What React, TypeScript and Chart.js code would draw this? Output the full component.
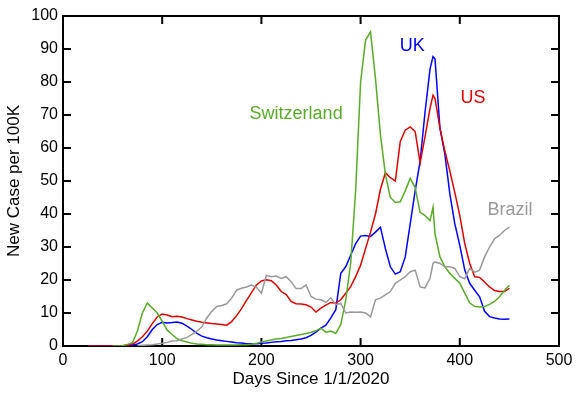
import React, { useEffect, useRef } from "react";
import { Chart, registerables } from "chart.js";

Chart.register(...registerables);

const days = [
  25, 30, 35, 40, 45, 50, 55, 60, 65, 70,
  75, 80, 85, 90, 95, 100, 105, 110, 115, 120,
  125, 130, 135, 140, 145, 150, 155, 160, 165, 170,
  175, 180, 185, 190, 195, 200, 205, 210, 215, 220,
  225, 230, 235, 240, 245, 250, 255, 260, 265, 270,
  275, 280, 285, 290, 295, 300, 305, 310, 315, 320,
  325, 330, 335, 340, 345, 350, 355, 360, 365, 370,
  373, 375, 380, 385, 390, 395, 400, 405, 410, 415,
  420, 425, 430, 435, 440, 445, 450,
];

const usValues = [
  0, 0, 0, 0, 0, 0, 0, 0.1, 0.3, 0.6,
  1.5, 2.8, 4.5, 6.8, 8.8, 9.7, 9.4, 8.9, 9, 8.8,
  8.3, 7.9, 7.5, 7.2, 7.0, 6.8, 6.7, 6.5, 6.3, 7.4,
  9.2, 11.3, 13.8, 16.2, 18.5, 19.7, 20.1, 19.8, 18.5, 16.5,
  15.6, 13.5, 12.8, 12.7, 12.5, 11.8, 10.3, 11.5, 12.4, 13.2,
  13, 14, 16, 18, 21, 24.5, 29.5, 34.5, 40, 47.5,
  52.5, 51, 50, 62, 65.4, 66.4, 65, 55.5, 63.5, 72,
  76, 75, 66, 59, 53, 46.5, 39.5, 31, 25, 21,
  20.8, 19.4, 17.9, 16.8, 16.5, 16.5, 17.5,
];

const ukValues = [
  0, 0, 0, 0, 0, 0, 0, 0, 0.1, 0.3,
  0.6, 1.3, 2.8, 5, 6.5, 7.2, 7, 7.1, 7.3, 6.9,
  6, 5, 3.8, 3, 2.5, 2.1, 1.8, 1.6, 1.4, 1.2,
  1, 0.9, 0.7, 0.7, 0.7, 0.8, 0.9, 1.1, 1.3, 1.4,
  1.6, 1.7, 1.9, 2.1, 2.5, 3.2, 4.2, 5.4, 6.3, 8.5,
  11, 22, 24, 27.5, 31, 33.3, 33.5, 33.2, 34.5, 36,
  29.5, 24, 21.8, 22.5, 27, 37, 47, 56, 71, 84,
  87.7, 87, 66, 58, 46, 37, 30.5, 23, 19, 16.9,
  14.9, 10.5, 8.9, 8.5, 8.2, 8.1, 8.2,
];

const switzerlandValues = [
  null, null, null, null, null, 0, 0, 0.1, 0.5, 1,
  4.5, 10, 13, 11.5, 10, 7.5, 4.8, 3.5, 2.2, 1.6,
  1.2, 0.8, 0.6, 0.5, 0.4, 0.4, 0.3, 0.3, 0.3, 0.3,
  0.3, 0.4, 0.4, 0.5, 0.8, 1.2, 1.5, 1.8, 2.1, 2.3,
  2.6, 2.9, 3.2, 3.5, 3.8, 4.1, 4.6, 5.4, 4.2, 4.5,
  3.8, 6.5, 13.9, 25, 47, 80, 92.7, 95.2, 81, 64,
  52, 45, 43.5, 43.7, 47, 50.8, 48, 40.5, 39.5, 38,
  42, 34, 27, 24, 22, 20.5, 19, 16, 13, 12,
  11.8, 12, 12.6, 13.5, 14.9, 16.8, 18.4,
];

const brazilValues = [
  null, null, null, null, null, null, null, null, null, null,
  0.1, 0.2, 0.3, 0.4, 0.6, 0.8, 1.1, 1.5, 1.6, 2.1,
  2.6, 3.5, 4.5, 5.8, 8.5, 10.5, 12, 12.3, 12.8, 14.5,
  16.9, 17.5, 17.9, 18.5, 17.8, 16, 21.4, 21, 21.2, 20.5,
  21, 19.5, 17.4, 17.4, 18.5, 15, 14.2, 14, 13.2, 14.6,
  12.5, 12.9, 10, 10.3, 10.2, 10.3, 10, 8.8, 14, 14.5,
  15.5, 16.5, 19, 20, 21, 22.5, 23, 17.9, 17.6, 20.5,
  25, 25.5, 25, 24, 24, 23.5, 21, 20.4, 23.5, 22.4,
  23, 27, 30, 32.5, 33.5, 35, 36,
];

const seriesNames = ["Brazil", "Switzerland", "US", "UK"];
const seriesColors = ["#999999", "#5aab2a", "#e00000", "#0000ff"];
// label anchor points in data units (day, value)
const labelDays = [450.7, 235, 413.4, 352];
const labelValues = [41.3, 70.3, 75, 90.8];

const xTicks = [0, 100, 200, 300, 400, 500];
const yTicks = [0, 10, 20, 30, 40, 50, 60, 70, 80, 90, 100];

const FONT = "'Liberation Sans', Arial, Helvetica, sans-serif";

const toPoints = (vals: (number | null)[]) =>
  days.map((d, i) => ({ x: d, y: vals[i] }));

const framePlugin = {
  id: "frame",
  beforeDatasetsDraw(chart: any) {
    const { ctx, chartArea } = chart;
    const { left, right, top, bottom } = chartArea;
    const xs = chart.scales.x;
    const ys = chart.scales.y;
    const tl = 8;
    ctx.save();
    ctx.strokeStyle = "#000";
    ctx.lineWidth = 2;
    ctx.beginPath();
    ctx.rect(left, top, right - left, bottom - top);
    ctx.stroke();
    ctx.beginPath();
    xTicks.forEach((t) => {
      const px = xs.getPixelForValue(t);
      ctx.moveTo(px, bottom);
      ctx.lineTo(px, bottom - tl);
      ctx.moveTo(px, top);
      ctx.lineTo(px, top + tl);
    });
    yTicks.forEach((t) => {
      const py = ys.getPixelForValue(t);
      ctx.moveTo(left, py);
      ctx.lineTo(left + tl, py);
      ctx.moveTo(right, py);
      ctx.lineTo(right - tl, py);
    });
    ctx.stroke();
    ctx.restore();
  },
  afterDatasetsDraw(chart: any) {
    const { ctx } = chart;
    const xs = chart.scales.x;
    const ys = chart.scales.y;
    ctx.save();
    ctx.font = `18px ${FONT}`;
    ctx.textAlign = "center";
    ctx.textBaseline = "middle";
    seriesNames.forEach((n, i) => {
      ctx.fillStyle = seriesColors[i];
      ctx.fillText(n, xs.getPixelForValue(labelDays[i]), ys.getPixelForValue(labelValues[i]));
    });
    ctx.restore();
  },
};

export default function App() {
  const ref = useRef<HTMLCanvasElement | null>(null);
  useEffect(() => {
    if (!ref.current) return;
    const valueSets = [brazilValues, switzerlandValues, usValues, ukValues];
    const chart = new Chart(ref.current, {
      type: "line",
      data: {
        datasets: seriesNames.map((n, i) => ({
          label: n,
          data: toPoints(valueSets[i]) as any,
          borderColor: seriesColors[i],
          backgroundColor: seriesColors[i],
          borderWidth: 1.5,
          pointRadius: 0,
          tension: 0,
          spanGaps: false,
        })),
      },
      options: {
        animation: false,
        responsive: false,
        layout: { padding: { top: 16, right: 20, left: 0, bottom: 0 } },
        plugins: { legend: { display: false }, tooltip: { enabled: false } },
        scales: {
          x: {
            type: "linear",
            min: 0,
            max: 500,
            afterBuildTicks: (s: any) => {
              s.ticks = xTicks.map((v) => ({ value: v }));
            },
            afterFit: (s: any) => {
              s.height = 51;
            },
            grid: { display: false, drawTicks: false },
            border: { display: false },
            ticks: {
              color: "#000",
              font: { family: FONT, size: 16 },
              padding: 5,
              maxRotation: 0,
            },
            title: {
              display: true,
              text: "Days Since 1/1/2020",
              color: "#000",
              font: { family: FONT, size: 17 },
              padding: { top: 0, bottom: 7 },
            },
          },
          y: {
            type: "linear",
            min: 0,
            max: 100,
            afterBuildTicks: (s: any) => {
              s.ticks = yTicks.map((v) => ({ value: v }));
            },
            afterFit: (s: any) => {
              s.width = 63;
            },
            grid: { display: false, drawTicks: false },
            border: { display: false },
            ticks: {
              color: "#000",
              font: { family: FONT, size: 16 },
              padding: 5,
            },
            title: {
              display: true,
              text: "New Case per 100K",
              color: "#000",
              font: { family: FONT, size: 17 },
              padding: { top: 4, bottom: 0 },
            },
          },
        },
      },
      plugins: [framePlugin],
    });
    return () => chart.destroy();
  }, []);
  return (
    <div style={{ position: "fixed", left: 0, top: 0, width: 579, height: 397, background: "#fff" }}>
      <canvas ref={ref} width={579} height={397} style={{ display: "block" }} />
    </div>
  );
}
